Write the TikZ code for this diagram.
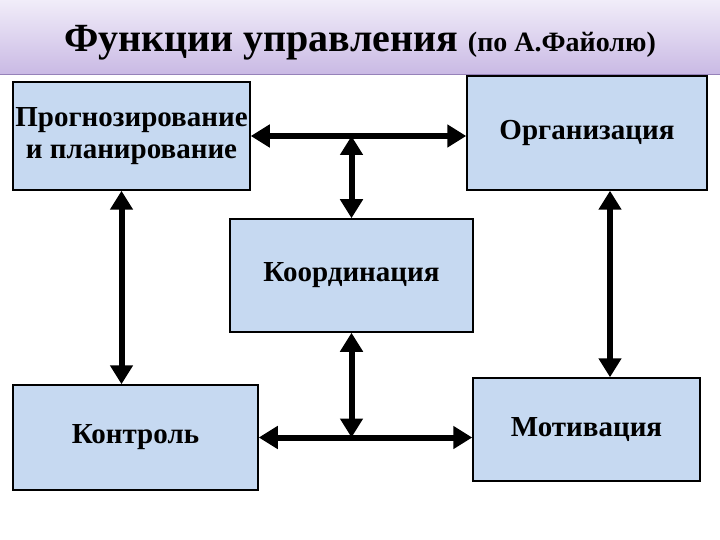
\documentclass[tikz,border=0pt]{standalone}
\usepackage{fontspec}
\setmainfont{Liberation Serif}
\usetikzlibrary{arrows.meta}
\definecolor{boxblue}{RGB}{198,217,241}
\definecolor{bandtop}{RGB}{241,237,249}
\definecolor{bandbot}{RGB}{201,185,228}
\definecolor{bandline}{RGB}{150,130,185}
\begin{document}
\begin{tikzpicture}[x=1pt,y=-1pt,
	box/.style={draw, line width=1.5pt, fill=boxblue, inner sep=0pt, align=center,
		font=\fontsize{29}{32}\selectfont\bfseries},
	link/.style={line width=6pt, {Triangle[length=19pt,width=22pt]}-{Triangle[length=19pt,width=22pt]}}
	]
	\useasboundingbox[fill=white] (0,0) rectangle (720,540);
	% title band
	\shade[top color=bandtop, bottom color=bandbot] (0,0) rectangle (720,75);
	\draw[bandline, line width=1pt] (0,75) -- (720,75);
	\node	(title) at (360,43) {\bfseries\fontsize{40}{44}\selectfont Функции управления \fontsize{28}{30}\selectfont(по А.Файолю)};
	
	\node	(prog) at (131.5,136) [box, minimum width=237pt, minimum height=108pt] {Прогнозирование\\и планирование};
	\node	(org) at (587,133) [box, minimum width=240pt, minimum height=114pt] {Организация};
	\node	(koord) at (351.5,275.5) [box, minimum width=243pt, minimum height=113pt] {Координация};
	\node	(kontrol) at (135.5,437.5) [box, minimum width=245pt, minimum height=105pt] {Контроль};
	\node	(motiv) at (586.5,429.5) [box, minimum width=227pt, minimum height=103pt] {Мотивация};
	
	\coordinate (tjoin) at (prog.east -| koord.north);
	\coordinate (bjoin) at (kontrol.east -| koord.south);
	
	\draw[link] (prog.east) -- (prog.east -| org.west);
	\draw[link] (tjoin) -- (koord.north);
	\draw[link] ([xshift=-10pt]prog.south) -- ([xshift=-10pt]prog.south |- kontrol.north);
	\draw[link] ([xshift=23pt]org.south) -- ([xshift=23pt]org.south |- motiv.north);
	\draw[link] (kontrol.east) -- (kontrol.east -| motiv.west);
	\draw[link] (koord.south) -- (bjoin);
\end{tikzpicture}
\end{document}
